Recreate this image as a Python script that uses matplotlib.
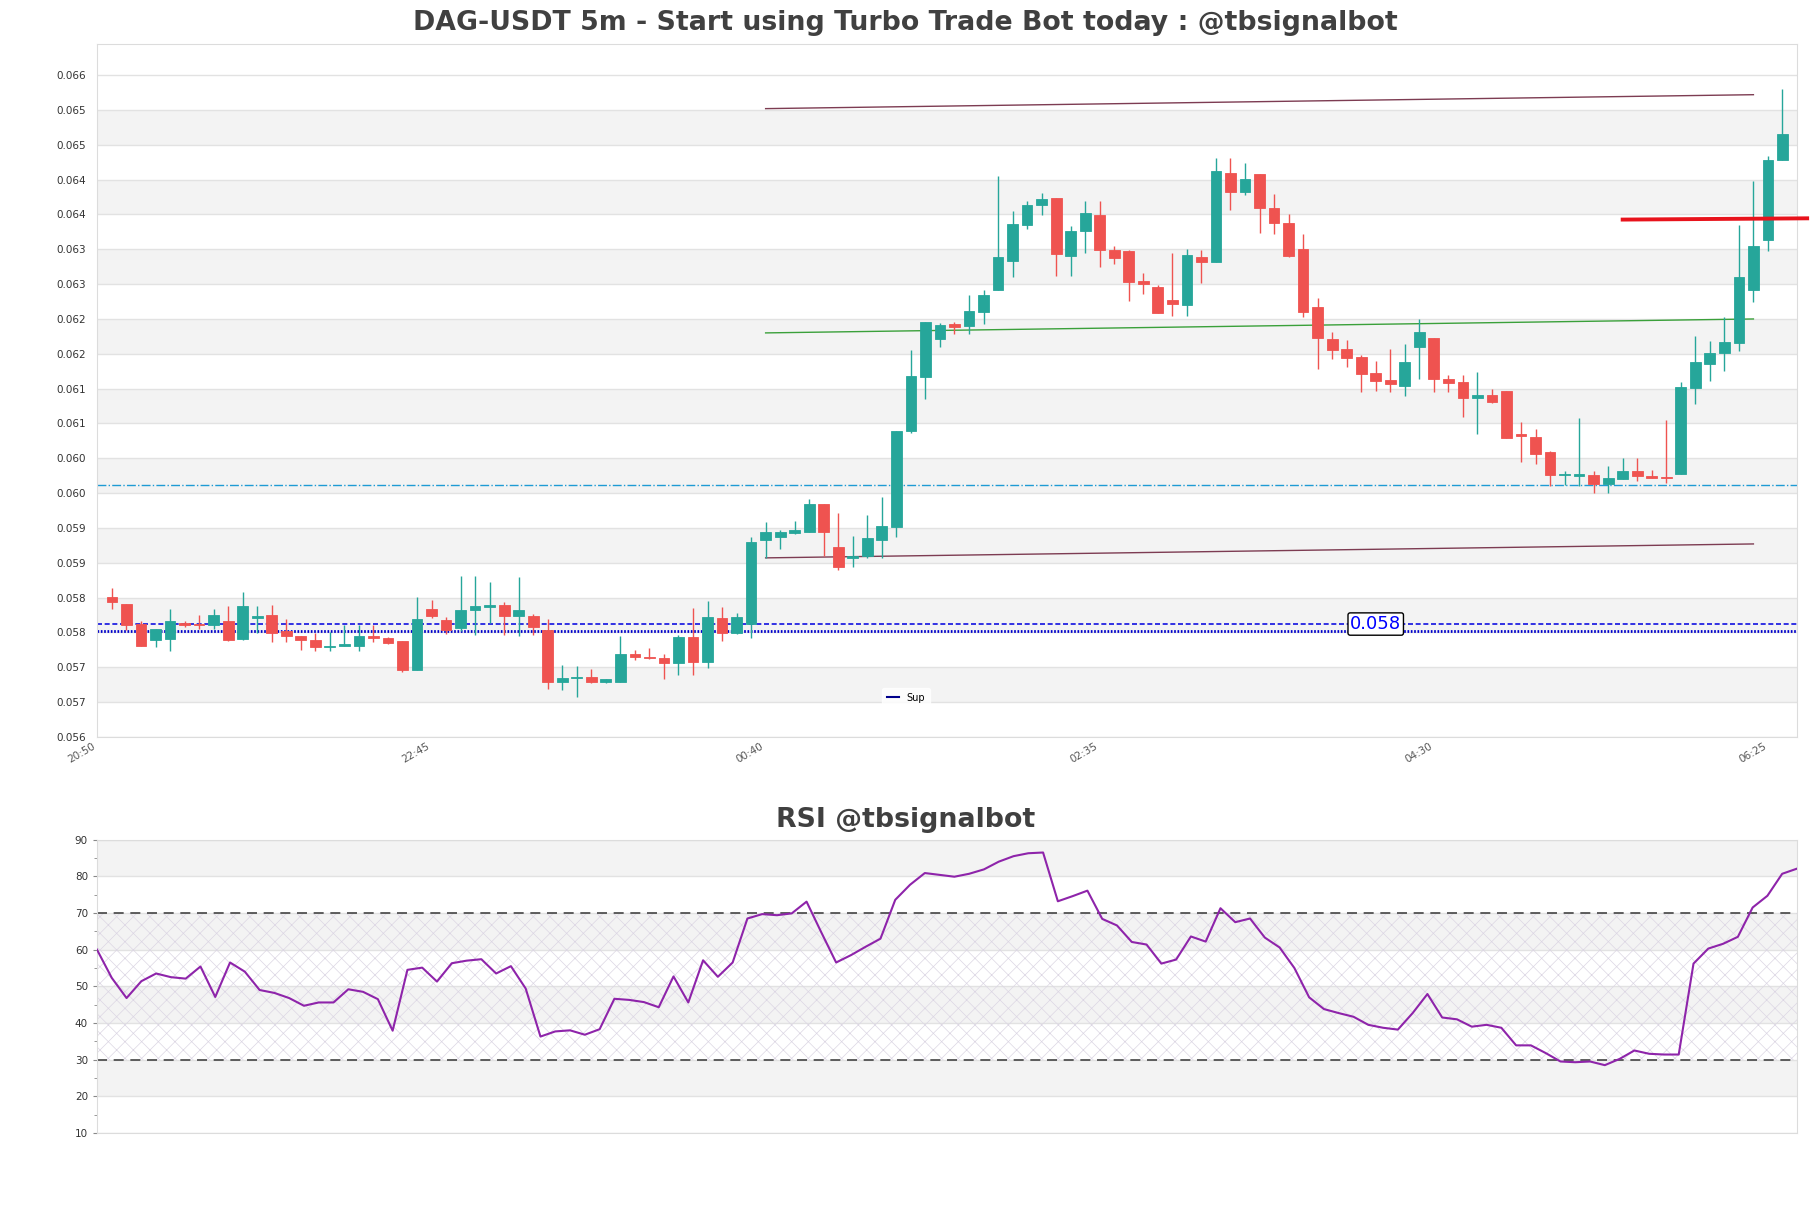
import matplotlib
matplotlib.use("Agg")
import matplotlib.pyplot as plt
import numpy as np

matplotlib.rcParams['hatch.linewidth'] = 0.5

title = "DAG-USDT 5m - Start using Turbo Trade Bot today : @tbsignalbot"
rsi_title = "RSI @tbsignalbot"

opens = [0.058010, 0.057910, 0.057624, 0.057386, 0.057400, 0.057638, 0.057624, 0.057610, 0.057667, 0.057400,
         0.057705, 0.057752, 0.057514, 0.057448, 0.057386, 0.057286, 0.057300, 0.057310, 0.057452, 0.057424,
         0.057383, 0.056967, 0.057842, 0.057684, 0.057560, 0.057818, 0.057861, 0.057900, 0.057732, 0.057742,
         0.057541, 0.056785, 0.056842, 0.056866, 0.056785, 0.056785, 0.057196, 0.057153, 0.057139, 0.057057,
         0.057440, 0.057081, 0.057713, 0.057488, 0.057622, 0.058833, 0.058871, 0.058928, 0.058948, 0.059350,
         0.058730, 0.058570, 0.058600, 0.058823, 0.059009, 0.060385, 0.061173, 0.061708, 0.061932, 0.061903,
         0.062104, 0.062410, 0.062835, 0.063355, 0.063642, 0.063733, 0.062906, 0.063269, 0.063489, 0.062997,
         0.062973, 0.062543, 0.062457, 0.062266, 0.062204, 0.062887, 0.062820, 0.064100, 0.063823, 0.064076,
         0.063590, 0.063375, 0.063002, 0.062170, 0.061706, 0.061568, 0.061458, 0.061219, 0.061119, 0.061042,
         0.061592, 0.061730, 0.061138, 0.061095, 0.060860, 0.060908, 0.060966, 0.060349, 0.060306, 0.060091,
         0.059756, 0.059751, 0.059761, 0.059632, 0.059699, 0.059814, 0.059747, 0.059737, 0.059780, 0.061009,
         0.061348, 0.061506, 0.061659, 0.062409, 0.063131, 0.064283]
highs = [0.058133, 0.057910, 0.057667, 0.057552, 0.057838, 0.057667, 0.057752, 0.057838, 0.057876, 0.058086,
         0.057876, 0.057895, 0.057695, 0.057448, 0.057486, 0.057500, 0.057605, 0.057605, 0.057605, 0.057440,
         0.057383, 0.058010, 0.057971, 0.057718, 0.058311, 0.058311, 0.058225, 0.057938, 0.058302, 0.057766,
         0.057694, 0.057038, 0.057024, 0.056981, 0.056833, 0.057455, 0.057244, 0.057282, 0.057196, 0.057464,
         0.057847, 0.057952, 0.057871, 0.057780, 0.058876, 0.059082, 0.058976, 0.059101, 0.059416, 0.059350,
         0.059220, 0.058890, 0.059180, 0.059449, 0.060394, 0.061555, 0.061956, 0.061937, 0.061956, 0.062343,
         0.062414, 0.064048, 0.063546, 0.063690, 0.063809, 0.063733, 0.063341, 0.063690, 0.063690, 0.063045,
         0.062997, 0.062653, 0.062486, 0.062949, 0.063011, 0.062997, 0.064315, 0.064315, 0.064244, 0.064076,
         0.063791, 0.063513, 0.063217, 0.062294, 0.061816, 0.061697, 0.061482, 0.061396, 0.061568, 0.061640,
         0.061993, 0.061730, 0.061195, 0.061195, 0.061243, 0.060989, 0.060966, 0.060526, 0.060416, 0.060110,
         0.059818, 0.060574, 0.059814, 0.059890, 0.060010, 0.060010, 0.059833, 0.060550, 0.061099, 0.061754,
         0.061687, 0.062022, 0.063346, 0.063977, 0.064345, 0.065296]
lows = [0.057838, 0.057533, 0.057300, 0.057286, 0.057229, 0.057571, 0.057548, 0.057548, 0.057371, 0.057390,
        0.057486, 0.057357, 0.057357, 0.057243, 0.057229, 0.057229, 0.057300, 0.057229, 0.057357, 0.057333,
        0.056928, 0.056957, 0.057708, 0.057479, 0.057517, 0.057459, 0.057636, 0.057459, 0.057445, 0.057459,
        0.056694, 0.056679, 0.056569, 0.056770, 0.056770, 0.056785, 0.057110, 0.057120, 0.056837, 0.056895,
        0.056895, 0.056986, 0.057383, 0.057474, 0.057416, 0.058570, 0.058704, 0.058919, 0.058948, 0.058603,
        0.058400, 0.058440, 0.058570, 0.058570, 0.058866, 0.060370, 0.060848, 0.061602, 0.061779, 0.061779,
        0.061932, 0.062410, 0.062605, 0.063298, 0.063499, 0.062620, 0.062620, 0.062954, 0.062749, 0.062792,
        0.062262, 0.062352, 0.062090, 0.062047, 0.062047, 0.062510, 0.062820, 0.063570, 0.063785, 0.063241,
        0.063222, 0.062892, 0.062022, 0.061276, 0.061420, 0.061305, 0.060956, 0.060970, 0.060956, 0.060899,
        0.061133, 0.060956, 0.060946, 0.060598, 0.060344, 0.060789, 0.060296, 0.059952, 0.059914, 0.059603,
        0.059618, 0.059603, 0.059508, 0.059508, 0.059699, 0.059680, 0.059713, 0.059651, 0.059780, 0.060774,
        0.061114, 0.061257, 0.061544, 0.062247, 0.062978, 0.064283]
closes = [0.057933, 0.057600, 0.057310, 0.057552, 0.057667, 0.057600, 0.057600, 0.057752, 0.057386, 0.057876,
          0.057738, 0.057486, 0.057443, 0.057386, 0.057286, 0.057310, 0.057329, 0.057452, 0.057414, 0.057350,
          0.056967, 0.057699, 0.057732, 0.057541, 0.057828, 0.057876, 0.057900, 0.057732, 0.057828, 0.057574,
          0.056785, 0.056852, 0.056861, 0.056785, 0.056833, 0.057196, 0.057148, 0.057129, 0.057057, 0.057440,
          0.057081, 0.057727, 0.057488, 0.057727, 0.058804, 0.058938, 0.058938, 0.058967, 0.059350, 0.058948,
          0.058440, 0.058600, 0.058860, 0.059033, 0.060394, 0.061182, 0.061956, 0.061913, 0.061889, 0.062113,
          0.062343, 0.062887, 0.063360, 0.063632, 0.063728, 0.062935, 0.063260, 0.063518, 0.062997, 0.062882,
          0.062534, 0.062496, 0.062090, 0.062219, 0.062916, 0.062820, 0.064119, 0.063823, 0.064014, 0.063599,
          0.063379, 0.062901, 0.062103, 0.061721, 0.061554, 0.061444, 0.061214, 0.061114, 0.061061, 0.061381,
          0.061812, 0.061133, 0.061085, 0.060860, 0.060908, 0.060813, 0.060296, 0.060315, 0.060062, 0.059761,
          0.059770, 0.059770, 0.059632, 0.059723, 0.059818, 0.059751, 0.059713, 0.059723, 0.061018, 0.061381,
          0.061506, 0.061663, 0.062600, 0.063054, 0.064278, 0.064651]

rsi = [60.0, 52.3, 46.8, 51.4, 53.5, 52.5, 52.1, 55.4, 47.1, 56.5,
       54.0, 49.0, 48.2, 46.8, 44.7, 45.6, 45.6, 49.2, 48.5, 46.5,
       37.9, 54.5, 55.1, 51.3, 56.3, 57.0, 57.4, 53.5, 55.5, 49.4,
       36.3, 37.7, 38.0, 36.8, 38.3, 46.6, 46.3, 45.7, 44.3, 52.7,
       45.6, 57.1, 52.6, 56.5, 68.5, 69.7, 69.4, 69.9, 73.1, 64.7,
       56.5, 58.5, 60.8, 63.0, 73.6, 77.7, 80.9, 80.4, 79.9, 80.7,
       81.9, 84.0, 85.5, 86.3, 86.5, 73.2, 74.6, 76.1, 68.4, 66.6,
       62.1, 61.4, 56.2, 57.3, 63.6, 62.2, 71.3, 67.5, 68.5, 63.3,
       60.6, 55.0, 47.0, 43.8, 42.7, 41.7, 39.5, 38.7, 38.2, 42.7,
       47.9, 41.5, 41.0, 39.0, 39.5, 38.7, 33.9, 33.9, 31.8, 29.5,
       29.3, 29.5, 28.5, 30.2, 32.5, 31.6, 31.4, 31.4, 56.2, 60.3,
       61.6, 63.5, 71.5, 74.7, 80.7, 82.1]

x_tick_pos = [-1, 22, 45, 68, 91, 114]
x_tick_labels = ["20:50", "22:45", "00:40", "02:35", "04:30", "06:25"]
y_ticks = [0.0560, 0.0565, 0.0570, 0.0575, 0.0580, 0.0585, 0.0590, 0.0595, 0.0600, 0.0605,
           0.0610, 0.0615, 0.0620, 0.0625, 0.0630, 0.0635, 0.0640, 0.0645, 0.0650, 0.0655]
y_tick_labels = ["0.056", "0.057", "0.057", "0.058", "0.058", "0.059", "0.059", "0.060", "0.060", "0.061",
                 "0.061", "0.062", "0.062", "0.063", "0.063", "0.064", "0.064", "0.065", "0.065", "0.066"]

channel_x = [45, 113]
channel_top = [0.06502, 0.06522]
channel_mid = [0.06180, 0.06200]
channel_bot = [0.05857, 0.05877]
resist_x = [104, 116.7]
resist_y = [0.063427, 0.063445]
sup_dashed = 0.05762
sup_dotted = 0.05752
cyan_level = 0.05961
sup_label = "0.058"
sup_label_x = 87
rsi_hi, rsi_lo = 70, 30
rsi_ticks = [10, 20, 30, 40, 50, 60, 70, 80, 90]

GREEN = '#26a69a'
RED = '#ef5350'

fig = plt.figure(figsize=(18.11, 12.08), dpi=100)
ax = fig.add_axes([0.05356, 0.39, 0.9387, 0.5737])
ax2 = fig.add_axes([0.05356, 0.0621, 0.9387, 0.2428])

o = np.array(opens); h = np.array(highs); l = np.array(lows); c = np.array(closes)
x = np.arange(len(o))
cols = np.where(c >= o, GREEN, RED)

# alternating bands
for k in range(len(y_ticks) - 1):
    if k % 2 == 1:
        ax.axhspan(y_ticks[k], y_ticks[k + 1], color='#f3f3f3', lw=0, zorder=0)

ax.vlines(x, l, h, colors=cols, lw=1, zorder=3)
ax.bar(x, np.abs(c - o), bottom=np.minimum(o, c), width=0.74, color=cols,
       edgecolor=cols, linewidth=0.6, zorder=4)

ax.plot(channel_x, channel_top, color='#7d3c52', lw=1, zorder=2)
ax.plot(channel_x, channel_mid, color='#3aa03a', lw=1, zorder=2)
ax.plot(channel_x, channel_bot, color='#7d3c52', lw=1, zorder=2)
ax.plot(resist_x, resist_y, color='#e8131c', lw=2.8, zorder=5, clip_on=False)

ax.axhline(cyan_level, color='#1e9bd4', lw=1, linestyle='-.', zorder=2)
ax.axhline(sup_dashed, color='#1010e0', lw=1.2, linestyle=(0, (3, 1.6)), zorder=2)
ax.axhline(sup_dotted, color='#0000cc', lw=2, linestyle=(0, (0.6, 0.6)), zorder=2, label='Sup')
ax.text(sup_label_x, sup_dashed, sup_label, color='#0000ff', fontsize=13, ha='center', va='center',
        zorder=6, bbox=dict(boxstyle='round,pad=0.12', fc='white', ec='black', lw=1))

leg = ax.legend(loc='lower center', bbox_to_anchor=(0.476, 0.035), fontsize=7, frameon=True,
                handlelength=1.2, borderpad=0.5)
leg.get_frame().set_edgecolor('white')
for lh in leg.get_lines():
    lh.set_linestyle('-')
    lh.set_color('#00008b')
    lh.set_linewidth(1.5)

ax.set_xlim(-1.03, 116.0)
ax.set_ylim(0.0560, 0.06595)
ax.set_yticks(y_ticks)
ax.set_yticklabels(y_tick_labels)
ax.set_xticks(x_tick_pos)
ax.set_xticklabels(x_tick_labels, rotation=30, ha='right')
ax.yaxis.grid(True, color='#e2e2e2', lw=1)
ax.set_axisbelow(True)
ax.tick_params(axis='y', labelsize=7.5, labelcolor='#333333', length=0, pad=8)
ax.tick_params(axis='x', labelsize=7.5, labelcolor='#555555', length=0, pad=3)
for s in ax.spines.values():
    s.set_color('#dcdcdc')

# RSI
xr = np.arange(len(rsi))
for lo_, hi_ in [(20, 30), (40, 50), (60, 70), (80, 90)]:
    ax2.axhspan(lo_, hi_, color='#f3f3f3', lw=0, zorder=0)
ax2.axhspan(rsi_lo, rsi_hi, facecolor='none', edgecolor='#dcd6e4', hatch='xx', lw=0, zorder=1)
ax2.axhline(rsi_hi, color='#444444', lw=1.2, linestyle=(0, (6, 4)), zorder=2)
ax2.axhline(rsi_lo, color='#444444', lw=1.2, linestyle=(0, (6, 4)), zorder=2)
ax2.plot(xr, rsi, color='#8e24aa', lw=1.5, zorder=3)
ax2.set_xlim(0, len(rsi) - 1)
ax2.set_ylim(10, 90)
ax2.set_yticks(rsi_ticks)
ax2.set_yticks(np.arange(15, 90, 10), minor=True)
ax2.set_xticks([])
ax2.yaxis.grid(True, color='#e2e2e2', lw=1)
ax2.set_axisbelow(True)
ax2.tick_params(axis='y', which='major', labelsize=7.5, labelcolor='#333333', length=3, color='#888888')
ax2.tick_params(axis='y', which='minor', length=2, color='#888888')
for s in ax2.spines.values():
    s.set_color('#dcdcdc')

fig.text(0.5, 0.981, title, ha='center', va='center', fontsize=19.3, fontweight='bold', color='#404040')
fig.text(0.5, 0.3212, rsi_title, ha='center', va='center', fontsize=19.3, fontweight='bold', color='#404040')

fig.savefig('out.png', dpi=100)
